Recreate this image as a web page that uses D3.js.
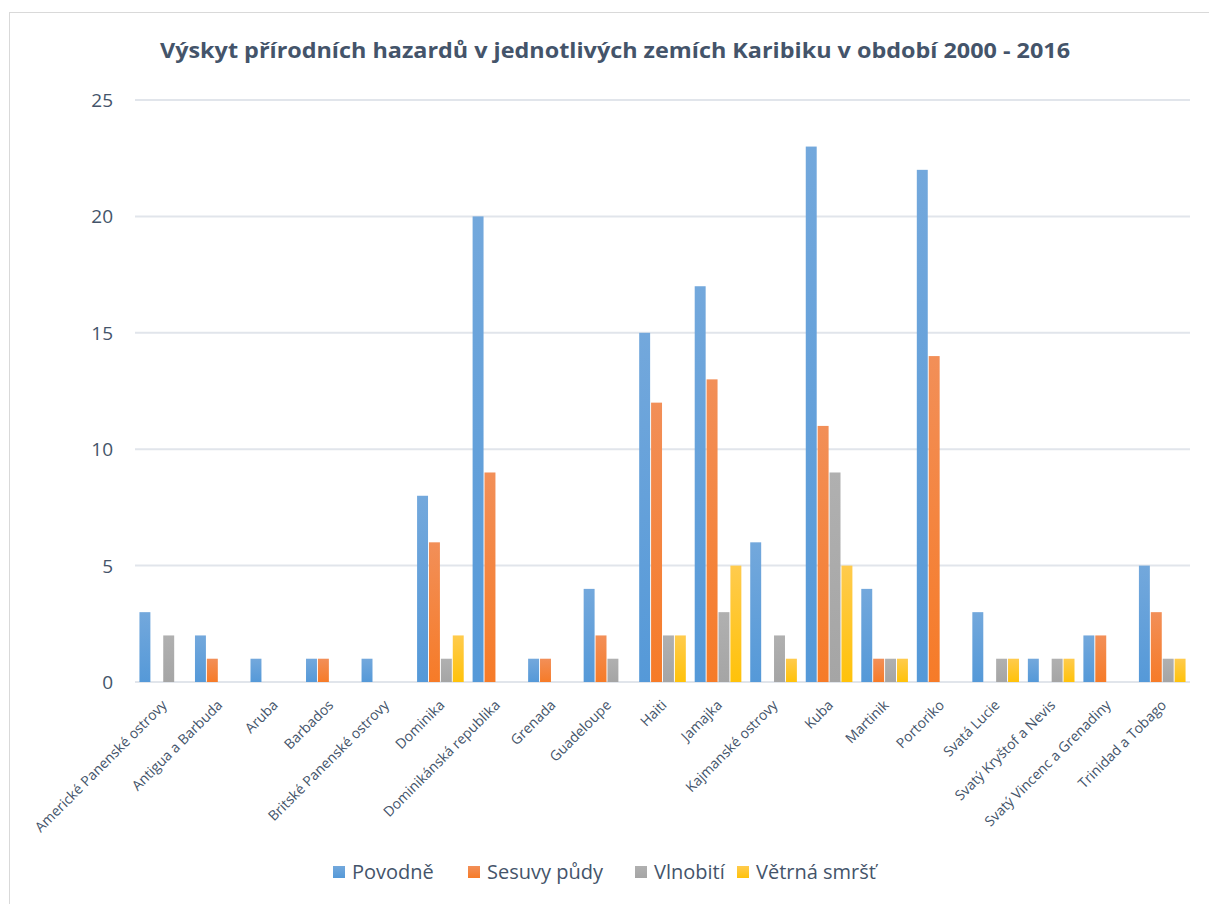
<!DOCTYPE html>
<html>
<head>
    <meta charset="UTF-8">
    <title>Výskyt přírodních hazardů</title>
    <style>
        body { margin: 0; background: #fff; }
        text { font-family: "Open Sans", "Noto Sans", sans-serif; fill: #44546A; }
    </style>
</head>
<body>
    <div id="chart"></div>
</body>
<script src="https://cdn.jsdelivr.net/npm/d3@7"></script>
<script>
    // data
    const categories = ["Americké Panenské ostrovy", "Antigua a Barbuda", "Aruba", "Barbados",
        "Britské Panenské ostrovy", "Dominika", "Dominikánská republika", "Grenada", "Guadeloupe",
        "Haiti", "Jamajka", "Kajmanské ostrovy", "Kuba", "Martinik", "Portoriko", "Svatá Lucie",
        "Svatý Kryštof a Nevis", "Svatý Vincenc a Grenadiny", "Trinidad a Tobago"];
    const seriesNames = ["Povodně", "Sesuvy půdy", "Vlnobití", "Větrná smršť"];
    const povodne = [3, 2, 1, 1, 1, 8, 20, 1, 4, 15, 17, 6, 23, 4, 22, 3, 1, 2, 5];
    const sesuvy = [0, 1, 0, 1, 0, 6, 9, 1, 2, 12, 13, 0, 11, 1, 14, 0, 0, 2, 3];
    const vlnobiti = [2, 0, 0, 0, 0, 1, 0, 0, 1, 2, 3, 2, 9, 1, 0, 1, 1, 0, 1];
    const smrst = [0, 0, 0, 0, 0, 2, 0, 0, 0, 2, 5, 1, 5, 1, 0, 1, 1, 0, 1];
    const yTicks = [0, 5, 10, 15, 20, 25];

    const seriesValues = [povodne, sesuvy, vlnobiti, smrst];
    const colorsTop = ["#73A8DC", "#F28F58", "#B0B0B0", "#FFCB4D"];
    const colorsBottom = ["#5599D8", "#F67B28", "#A5A5A5", "#FFC20A"];

    const W = 1209, H = 904;
    const svg = d3.select("#chart").append("svg").attr("width", W).attr("height", H);

    // gradients like the office chart
    const defs = svg.append("defs");
    seriesNames.forEach((s, i) => {
        const g = defs.append("linearGradient").attr("id", "g" + i)
            .attr("x1", 0).attr("y1", 0).attr("x2", 0).attr("y2", 1);
        g.append("stop").attr("offset", "0%").attr("stop-color", colorsTop[i]);
        g.append("stop").attr("offset", "100%").attr("stop-color", colorsBottom[i]);
    });

    // chart frame
    svg.append("rect").attr("x", 9.5).attr("y", 12.5).attr("width", 1300).attr("height", 1000)
        .attr("fill", "none").attr("stroke", "#D9D9D9");

    const plotL = 135, plotR = 1190, plotT = 100, plotB = 682;

    const y = d3.scaleLinear().domain([0, 25]).range([plotB, plotT]);
    const x0 = d3.scaleBand().domain(categories).range([plotL, plotR])
        .paddingInner(0.16).paddingOuter(0.08);
    const x1 = d3.scaleBand().domain(seriesNames).range([0, x0.bandwidth()]).paddingInner(0.08);

    // title
    svg.append("text").attr("x", 615).attr("y", 58).attr("text-anchor", "middle")
        .attr("font-size", 21).attr("font-weight", "bold")
        .attr("textLength", 910).attr("lengthAdjust", "spacingAndGlyphs")
        .text("Výskyt přírodních hazardů v jednotlivých zemích Karibiku v období 2000 - 2016");

    // grid
    svg.append("g").selectAll("line").data(yTicks).join("line")
        .attr("x1", plotL).attr("x2", plotR)
        .attr("y1", d => y(d)).attr("y2", d => y(d))
        .attr("stroke", "#E1E5EB").attr("stroke-width", 2);

    svg.append("g").selectAll("text").data(yTicks).join("text")
        .attr("x", 113).attr("y", d => y(d) + 7).attr("text-anchor", "end")
        .attr("font-size", 19).text(d => d);

    // bars
    const groups = svg.append("g").selectAll("g").data(categories).join("g")
        .attr("transform", d => `translate(${x0(d)},0)`);
    groups.selectAll("rect")
        .data((c, ci) => seriesNames.map((s, si) => ({ s, si, v: seriesValues[si][ci] })))
        .join("rect")
        .filter(d => d.v > 0)
        .attr("x", d => x1(d.s)).attr("width", x1.bandwidth())
        .attr("y", d => y(d.v)).attr("height", d => plotB - y(d.v))
        .attr("fill", d => `url(#g${d.si})`);

    // category labels
    svg.append("g").selectAll("text").data(categories).join("text")
        .attr("transform", d => `translate(${x0(d) + x0.bandwidth() / 2 + 5},${plotB + 24}) rotate(-45)`)
        .attr("text-anchor", "end").attr("font-size", 14).text(d => d);

    // legend
    const legendX = [333, 468, 635, 737];
    const lg = svg.append("g").selectAll("g").data(seriesNames).join("g")
        .attr("transform", (d, i) => `translate(${legendX[i]},866)`);
    lg.append("rect").attr("width", 12).attr("height", 12).attr("fill", (d, i) => `url(#g${i})`);
    lg.append("text").attr("x", 19).attr("y", 13).attr("font-size", 20).text(d => d);
</script>
</html>
